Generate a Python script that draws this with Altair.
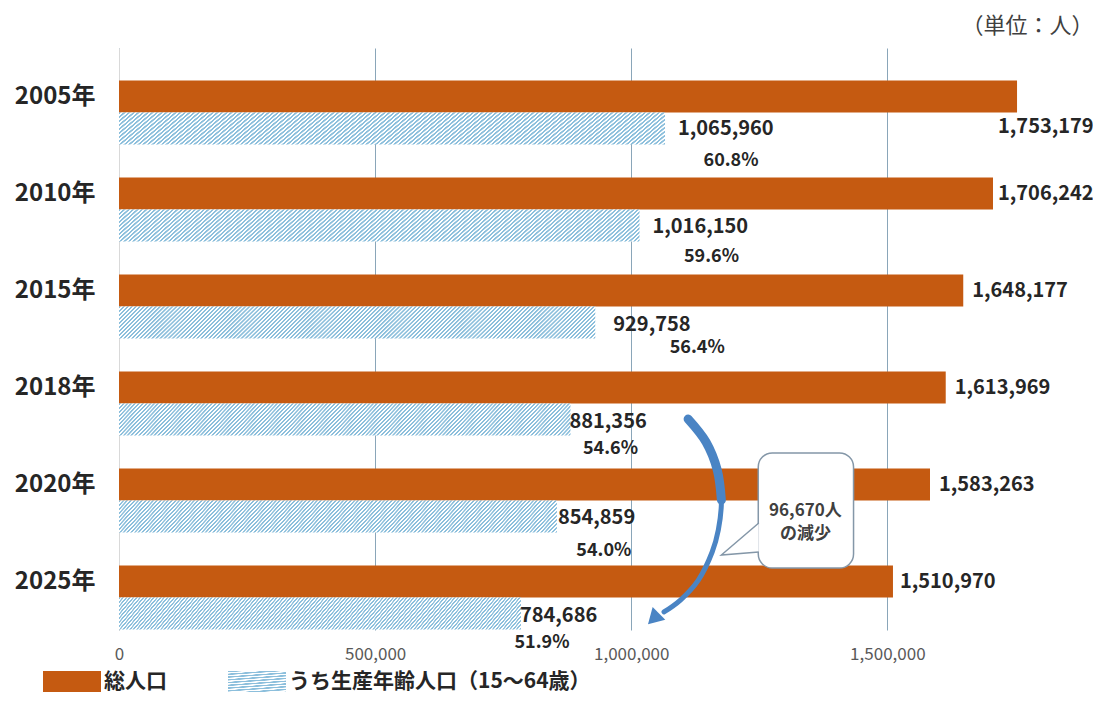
import json
import altair as alt
import pandas as pd

# ---------------- data ----------------
years = ["2005年", "2010年", "2015年", "2018年", "2020年", "2025年"]
total_pop = [1753179, 1706242, 1648177, 1613969, 1583263, 1510970]
working_pop = [1065960, 1016150, 929758, 881356, 854859, 784686]
working_share = ["60.8%", "59.6%", "56.4%", "54.6%", "54.0%", "51.9%"]

x_ticks = [0, 500000, 1000000, 1500000]
series_names = ["総人口", "うち生産年齢人口（15～64歳）"]
unit_label = "（単位：人）"

# annotation (x in persons, y in year-row units counted from the top)
bubble_text = "96,670人\nの減少"
bubble_x = [1248000, 1434000]
bubble_y = [4.175, 5.361]
bubble_text_pos = [1340000, 4.773]
tail_x = [1249000, 1176000, 1249000]
tail_y = [4.897, 5.227, 5.196]
arrow_x = [1111000, 1146000, 1168000, 1176000, 1170000, 1158000, 1131000, 1096000, 1064000]
arrow_y = [3.825, 4.062, 4.351, 4.660, 4.969, 5.196, 5.485, 5.691, 5.814]
arrow_head = [1047000, 5.866]

# ---------------- style ----------------
FONT = "Noto Sans CJK JP"
ORANGE = "#c55a11"
STRIPE = "#8cbfdc"
GRID = "#8aa6b9"
TXT = "#262626"
ARROW = "#4a84c4"
EDGE = "#8497a8"
XMAX = 1880000
PLOT_W, PLOT_H = 963, 582
SVG_W, SVG_H = 1085, 684
PAD_L, PAD_T = 111, 40
YEARS_JS = json.dumps(years, ensure_ascii=False)

# label nudges (pixels), per row, as placed in the original layout
total_nudge = [(-19, 30), (5, 0), (9, 0), (9, 0), (9, 0), (7, 0)]
work_nudge = [(13, 32), (13, 33), (18, 34), (-1, 34), (1, 33), (-1, 34)]
share_nudge = [(66, 64), (72, 63), (102, 57), (40, 61), (47, 66), (21, 61)]


def hatch(w0, h, period=4.0, c1=STRIPE, c2="#ffffff"):
    r = w0 / h
    y2 = (r + 1) / (r * r + 1)
    x2 = r * y2
    dt = period / (h * (r + 1))
    stops = []
    k = 0
    while k * dt < 1:
        o = k * dt
        for f, c in ((0.0, c1), (0.40, c1), (0.55, c2), (0.90, c2)):
            off = min(o + f * dt, 1.0)
            stops.append({"offset": round(off, 5), "color": c})
        k += 1
    return {"gradient": "linear", "x1": 0, "y1": 0, "x2": x2, "y2": y2, "stops": stops}


bar_hatch = hatch(470, 32)
legend_hatch = hatch(58, 22)

df = pd.DataFrame({"year": years, "total": total_pop, "work": working_pop, "share": working_share})
bubble_df = pd.DataFrame({"x1": [bubble_x[0]], "x2": [bubble_x[1]], "y1": [bubble_y[0]], "y2": [bubble_y[1]]})
btext_df = pd.DataFrame({"x": [bubble_text_pos[0]], "y": [bubble_text_pos[1]], "t": [bubble_text]})
tail_df = pd.DataFrame({"x": tail_x, "y": tail_y, "i": list(range(len(tail_x)))})
arrow_df = pd.DataFrame({"x": arrow_x, "y": arrow_y, "i": list(range(len(arrow_x)))})
head_df = pd.DataFrame({"x": [arrow_head[0]], "y": [arrow_head[1]]})

x_scale = alt.Scale(domain=[0, XMAX], nice=False, zero=True, padding=0)
y_scale = alt.Scale(domain=[0, len(years)], reverse=True, nice=False, zero=False, padding=0)

X_AXIS = alt.Axis(
    values=x_ticks, labelExpr="format(datum.value, ',')", title=None, labelFont=FONT, labelFontSize=17,
    labelColor="#595959", ticks=False, domain=False, labelPadding=16,
    labelFlush=False, grid=True, gridColor=GRID, gridWidth=1,
)
Y_AXIS = alt.Axis(
    values=[i + 0.5 for i in range(len(years))], labelExpr=f"{YEARS_JS}[floor(datum.value)]",
    title=None, ticks=False, domain=True, domainColor="#d9d9d9", labelFont=FONT,
    labelFontSize=24, labelFontWeight="bold", labelColor=TXT, labelPadding=24,
    grid=False,
)


def xq(field):
    return alt.X(field, type="quantitative", scale=x_scale, axis=X_AXIS)


def yq(field):
    return alt.Y(field, type="quantitative", scale=y_scale, axis=Y_AXIS)


def legend_def(x, encode=None, fill_color=None):
    kw = dict(
        orient="none", legendX=x, legendY=605, direction="horizontal", title=None,
        symbolType="M-1,-0.38H1V0.38H-1Z", symbolSize=3364, symbolStrokeWidth=0,
        labelFont=FONT, labelFontSize=21, labelFontWeight="bold", labelColor=TXT,
        labelOffset=3, labelLimit=600, padding=0,
    )
    if encode is not None:
        kw["encode"] = encode
    if fill_color is not None:
        kw["symbolFillColor"] = fill_color
    return alt.Legend(**kw)


def build(legend2):
    base = alt.Chart(df).transform_calculate(pos=f"indexof({YEARS_JS}, datum.year) + 0.5")
    total_bars = base.transform_calculate(series=f"'{series_names[0]}'").mark_bar(
        orient="horizontal", size=32).encode(
        x=xq("total"), y=yq("pos"),
        color=alt.Color("series:N", scale=alt.Scale(domain=series_names[:1], range=[ORANGE]),
                        legend=legend_def(-76)),
    )
    work_bars = base.transform_calculate(series=f"'{series_names[1]}'").mark_bar(
        orient="horizontal", size=32, yOffset=32, fill=bar_hatch).encode(
        x=xq("work"), y=yq("pos"),
        opacity=alt.Opacity("series:N", scale=alt.Scale(domain=series_names[1:], range=[1]),
                            legend=legend2),
    )

    tstyle = dict(font=FONT, fontWeight="bold", color=TXT, baseline="middle")
    labels = []
    for i, yr in enumerate(years):
        row = base.transform_filter(alt.datum.year == yr)
        tdx, tdy = total_nudge[i]
        wdx, wdy = work_nudge[i]
        sdx, sdy = share_nudge[i]
        labels.append(row.mark_text(align="left", dx=tdx, dy=tdy, fontSize=20, **tstyle).encode(
            x=xq("total"), y=yq("pos"), text=alt.Text("total:Q", format=",")))
        labels.append(row.mark_text(align="left", dx=wdx, dy=wdy, fontSize=20, **tstyle).encode(
            x=xq("work"), y=yq("pos"), text=alt.Text("work:Q", format=",")))
        labels.append(row.mark_text(align="center", dx=sdx, dy=sdy, fontSize=18, **tstyle).encode(
            x=xq("work"), y=yq("pos"), text="share:N"))

    bubble = alt.Chart(bubble_df).mark_rect(cornerRadius=14, fill="white", stroke=EDGE, strokeWidth=1.5).encode(
        x=xq("x1"), x2="x2:Q", y=yq("y1"), y2="y2:Q")
    tail = alt.Chart(tail_df).mark_line(fill="white", stroke=EDGE, strokeWidth=1.5).encode(
        x=xq("x"), y=yq("y"), order="i:Q")
    btext = alt.Chart(btext_df).mark_text(font=FONT, fontWeight="bold", fontSize=17, color="#404040",
                                          lineBreak="\n", lineHeight=23, align="center", baseline="middle").encode(
        x=xq("x"), y=yq("y"), text="t:N")
    arrow_body = alt.Chart(arrow_df).mark_line(color=ARROW, strokeWidth=5, strokeCap="round",
                                               interpolate="catmull-rom").encode(
        x=xq("x"), y=yq("y"), order="i:Q")
    arrow_top = alt.Chart(arrow_df).transform_filter("datum.i <= 3").mark_line(
        color=ARROW, strokeWidth=9, strokeCap="round", interpolate="catmull-rom").encode(
        x=xq("x"), y=yq("y"), order="i:Q")
    head = alt.Chart(head_df).mark_point(shape="triangle", angle=225, size=320, filled=True, color=ARROW,
                                         opacity=1).encode(x=xq("x"), y=yq("y"))

    chart = alt.layer(
        total_bars, work_bars, *labels, bubble, tail, btext, arrow_body, arrow_top, head,
    ).properties(
        width=PLOT_W, height=PLOT_H,
        padding={"left": PAD_L, "top": PAD_T, "right": SVG_W - PAD_L - PLOT_W,
                 "bottom": SVG_H - PAD_T - PLOT_H},
        autosize=alt.AutoSizeParams(type="none"),
        title=alt.TitleParams(unit_label, anchor="end", font=FONT, fontSize=22, fontWeight="normal",
                              color="#404040", offset=10, dx=0),
    ).configure(font=FONT).configure_view(stroke=None)
    return chart


candidates = [
    lambda: legend_def(109, encode={"symbols": {"fill": {"value": legend_hatch}}}),
    lambda: legend_def(109, encode={"symbols": {"update": {"fill": {"value": legend_hatch}}}}),
    lambda: legend_def(109, fill_color="#b9d9ec"),
]

chart = None
for make in candidates:
    try:
        c = build(make())
        c.to_dict()
        chart = c
        break
    except Exception:
        continue

chart.save("out.html", embed_options={"renderer": "svg", "actions": False})
